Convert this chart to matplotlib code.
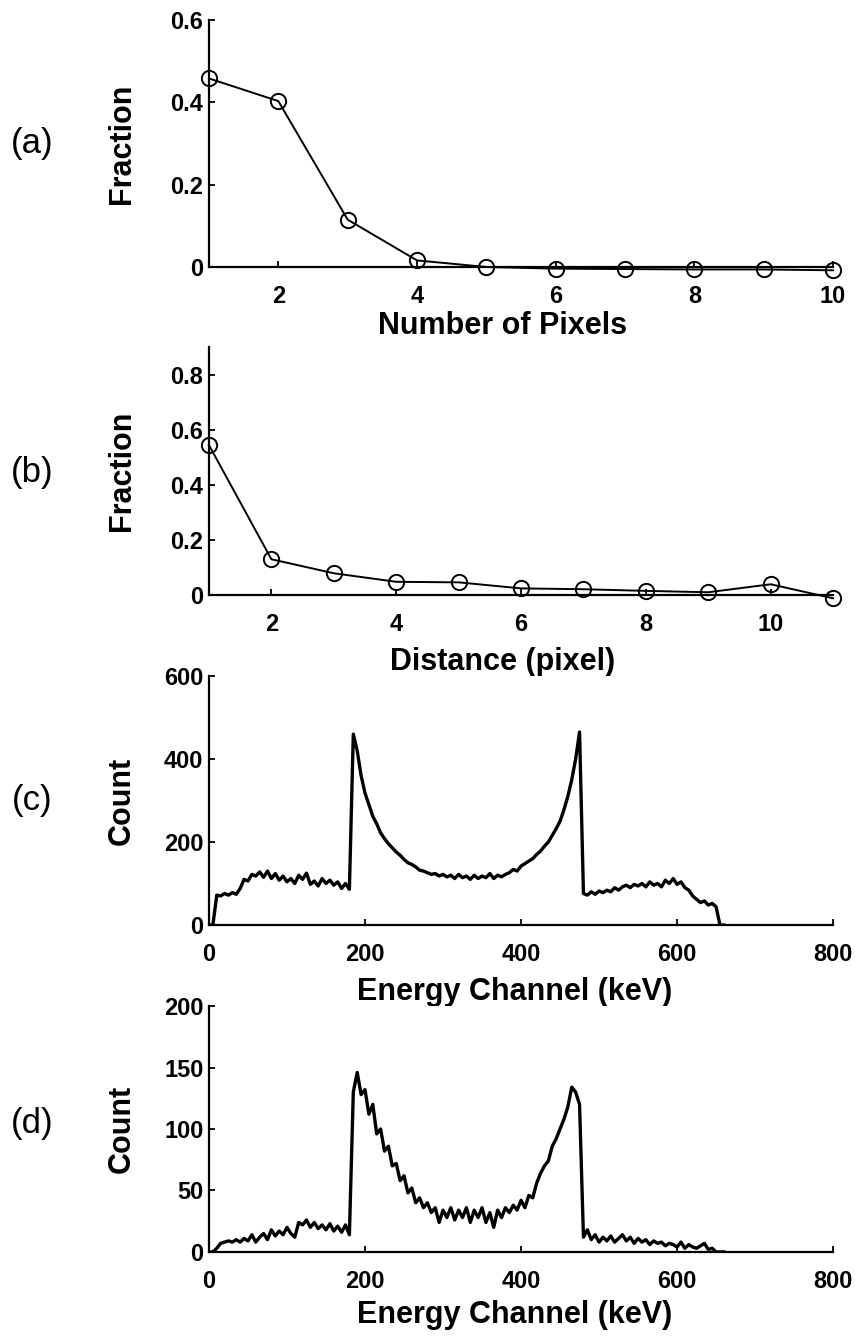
#!/usr/bin/env python3

import matplotlib

matplotlib.use("Agg")
import matplotlib.pyplot as plt


# panel (a): cluster size distribution
pixels_x = [1, 2, 3, 4, 5, 6, 7, 8, 9, 10]
pixels_frac = [0.458, 0.403, 0.115, 0.016, 0.0, -0.004, -0.005, -0.006, -0.006, -0.008]

# panel (b): distance distribution
dist_x = [1, 2, 3, 4, 5, 6, 7, 8, 9, 10, 11]
dist_frac = [0.545, 0.13, 0.079, 0.048, 0.046, 0.024, 0.021, 0.015, 0.010, 0.039, -0.012]

energy_kev = list(range(0, 665, 5))
count_c = [
    0, 0, 72, 70, 76, 72, 78, 74, 88, 110,
    106, 122, 118, 128, 115, 130, 112, 124, 108, 118,
    104, 112, 100, 120, 110, 125, 98, 106, 94, 112,
    100, 108, 96, 104, 88, 100, 86, 460, 420, 360,
    318, 290, 262, 244, 222, 208, 196, 186, 176, 168,
    158, 150, 146, 140, 132, 130, 126, 122, 124, 118,
    122, 116, 120, 112, 122, 114, 118, 110, 120, 112,
    118, 114, 124, 112, 120, 116, 122, 126, 134, 130,
    142, 148, 154, 160, 170, 178, 190, 200, 216, 232,
    250, 278, 310, 350, 400, 465, 76, 72, 80, 74,
    82, 78, 84, 80, 90, 84, 92, 96, 90, 98,
    94, 100, 92, 104, 96, 100, 92, 108, 100, 112,
    98, 104, 90, 84, 70, 62, 54, 58, 48, 52,
    44, 0, 0,
]
count_d = [
    0, 0, 3, 7, 8, 9, 8, 10, 8, 11,
    9, 14, 8, 12, 15, 10, 18, 13, 17, 14,
    20, 15, 12, 24, 22, 26, 20, 24, 19, 22,
    18, 23, 17, 21, 16, 22, 14, 130, 146, 128,
    132, 112, 120, 96, 100, 82, 86, 70, 72, 58,
    62, 48, 52, 40, 44, 36, 40, 32, 36, 24,
    34, 28, 36, 26, 34, 28, 36, 24, 34, 28,
    36, 24, 32, 20, 34, 28, 36, 32, 38, 34,
    42, 36, 46, 44, 56, 64, 70, 74, 86, 92,
    100, 108, 118, 134, 130, 120, 12, 18, 10, 14,
    8, 12, 9, 13, 8, 11, 14, 9, 12, 7,
    11, 8, 10, 6, 9, 7, 8, 5, 7, 6,
    4, 8, 3, 6, 4, 3, 5, 7, 2, 3,
    0, 0, 0,
]

FONT = ["Liberation Sans", "DejaVu Sans"]
TICK_SIZE = 17
LABEL_SIZE = 22


def style_axes(ax):
    for side in ("top", "right"):
        ax.spines[side].set_visible(False)
    for side in ("left", "bottom"):
        ax.spines[side].set_linewidth(1.6)
    ax.tick_params(direction="in", length=4, width=1.3, labelsize=TICK_SIZE)
    ax.tick_params(axis="x", pad=13)
    ax.tick_params(axis="y", pad=4)
    for label in ax.get_xticklabels() + ax.get_yticklabels():
        label.set_fontweight("bold")


def main():
    plt.rcParams["font.family"] = FONT
    fig = plt.figure(figsize=(8.55, 13.41), dpi=100)

    left, width = 0.2444, 0.730
    ax_a = fig.add_axes([left, 0.8009, width, 0.1842])
    ax_b = fig.add_axes([left, 0.5563, width, 0.1846])
    ax_c = fig.add_axes([left, 0.3102, width, 0.1857])
    ax_d = fig.add_axes([left, 0.0664, width, 0.1834])

    marker_style = dict(color="black", lw=1.4, marker="o", ms=11,
                        mfc="none", mec="black", mew=1.4, clip_on=False)

    ax_a.plot(pixels_x, pixels_frac, **marker_style)
    ax_a.set_xlim(1, 10)
    ax_a.set_ylim(0, 0.6)
    ax_a.set_xticks([2, 4, 6, 8, 10])
    ax_a.set_yticks([0, 0.2, 0.4, 0.6])
    ax_a.set_yticklabels(["0", "0.2", "0.4", "0.6"])

    ax_b.plot(dist_x, dist_frac, **marker_style)
    ax_b.set_xlim(1, 11)
    ax_b.set_ylim(0, 0.9)
    ax_b.set_xticks([2, 4, 6, 8, 10])
    ax_b.set_yticks([0, 0.2, 0.4, 0.6, 0.8])
    ax_b.set_yticklabels(["0", "0.2", "0.4", "0.6", "0.8"])

    ax_c.plot(energy_kev, count_c, color="black", lw=2.4)
    ax_c.set_xlim(0, 800)
    ax_c.set_ylim(0, 600)
    ax_c.set_xticks([0, 200, 400, 600, 800])
    ax_c.set_yticks([0, 200, 400, 600])

    ax_d.plot(energy_kev, count_d, color="black", lw=2.4)
    ax_d.set_xlim(0, 800)
    ax_d.set_ylim(0, 200)
    ax_d.set_xticks([0, 200, 400, 600, 800])
    ax_d.set_yticks([0, 50, 100, 150, 200])

    xlabels = ["Number of Pixels", "Distance (pixel)",
               "Energy Channel (keV)", "Energy Channel (keV)"]
    ylabels = ["Fraction", "Fraction", "Count", "Count"]
    xlabel_pos = [(0.47, -0.18), (0.47, -0.21), (0.49, -0.21), (0.49, -0.195)]
    panel_tags = ["(a)", "(b)", "(c)", "(d)"]
    tag_y = [143, 473, 800, 1123]

    for ax, xl, yl, pos, tag, ty in zip([ax_a, ax_b, ax_c, ax_d], xlabels, ylabels,
                                       xlabel_pos, panel_tags, tag_y):
        style_axes(ax)
        ax.set_xlabel(xl, fontsize=LABEL_SIZE, fontweight="bold")
        ax.xaxis.set_label_coords(*pos)
        ax.set_ylabel(yl, fontsize=LABEL_SIZE, fontweight="bold", va="center")
        ax.yaxis.set_label_coords(-0.14, 0.5)
        fig.text(32 / 855, 1 - ty / 1341, tag, fontsize=25,
                 ha="center", va="center")

    fig.savefig("out.png", dpi=100)
    plt.close(fig)


if __name__ == "__main__":
    main()
